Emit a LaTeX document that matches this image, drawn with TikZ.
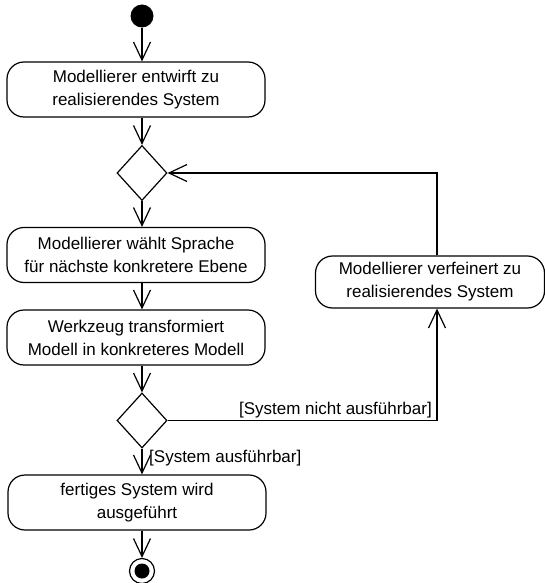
\documentclass[tikz,border=0pt]{standalone}
\usepackage{fontspec}
\setmainfont{Liberation Sans}
\usetikzlibrary{arrows.meta,shapes.geometric}
\begin{document}
\begin{tikzpicture}[x=1pt,y=-1pt,
  font=\fontsize{17}{23}\selectfont,
  act/.style={draw,line width=1.2pt,rounded corners=17pt,minimum width=258pt,minimum height=55pt,align=center,inner sep=0pt},
  dec/.style={draw,line width=1.2pt,diamond,minimum width=50pt,minimum height=55pt,inner sep=0pt,aspect=0.9},
  flow/.style={line width=1.2pt,-{Straight Barb[length=18pt,width=17pt,line width=1.2pt]}},
  guard/.style={inner sep=1pt}]
\useasboundingbox (0,0) rectangle (545,583);
\node[circle,fill=black,minimum size=23pt,inner sep=0pt] (start) at (142,16) {};
\node[act] (a1) at (136,89.5) {Modellierer entwirft zu\\realisierendes System};
\node[dec] (d1) at (142,173) {};
\node[act] (a2) at (136,255) {Modellierer wählt Sprache\\für nächste konkretere Ebene};
\node[act] (a3) at (136,337.5) {Werkzeug transformiert\\Modell in konkreteres Modell};
\node[dec] (d2) at (142,420.5) {};
\node[act] (a4) at (137,502.5) {fertiges System wird\\ausgeführt};
\node[act,minimum width=229pt,minimum height=52pt] (a5) at (430,282) {Modellierer verfeinert zu\\realisierendes System};
\node[circle,draw,line width=1.2pt,minimum size=25pt,inner sep=0pt] (fin) at (142,571) {};
\node[circle,fill=black,minimum size=15pt,inner sep=0pt] at (fin) {};
\coordinate (lx) at (437,0);
\coordinate (cx) at (142,0);
\draw[flow] (start) -- (a1.north -| cx);
\draw[flow] (a1.south -| cx) -- (d1.north);
\draw[flow] (d1.south) -- (a2.north -| cx);
\draw[flow] (a2.south -| cx) -- (a3.north -| cx);
\draw[flow] (a3.south -| cx) -- (d2.north);
\draw[flow] (d2.south) -- (a4.north -| cx);
\draw[flow] (a4.south -| cx) -- (fin.north);
\draw[flow] (d2.east) -| (a5.south -| lx);
\draw[flow] (a5.north -| lx) |- (d1.east);
\node[guard,anchor=south east] (g1) at (433,419) {[System nicht ausführbar]};
\node[guard,anchor=west] (g2) at (148,458) {[System ausführbar]};
\end{tikzpicture}
\end{document}
